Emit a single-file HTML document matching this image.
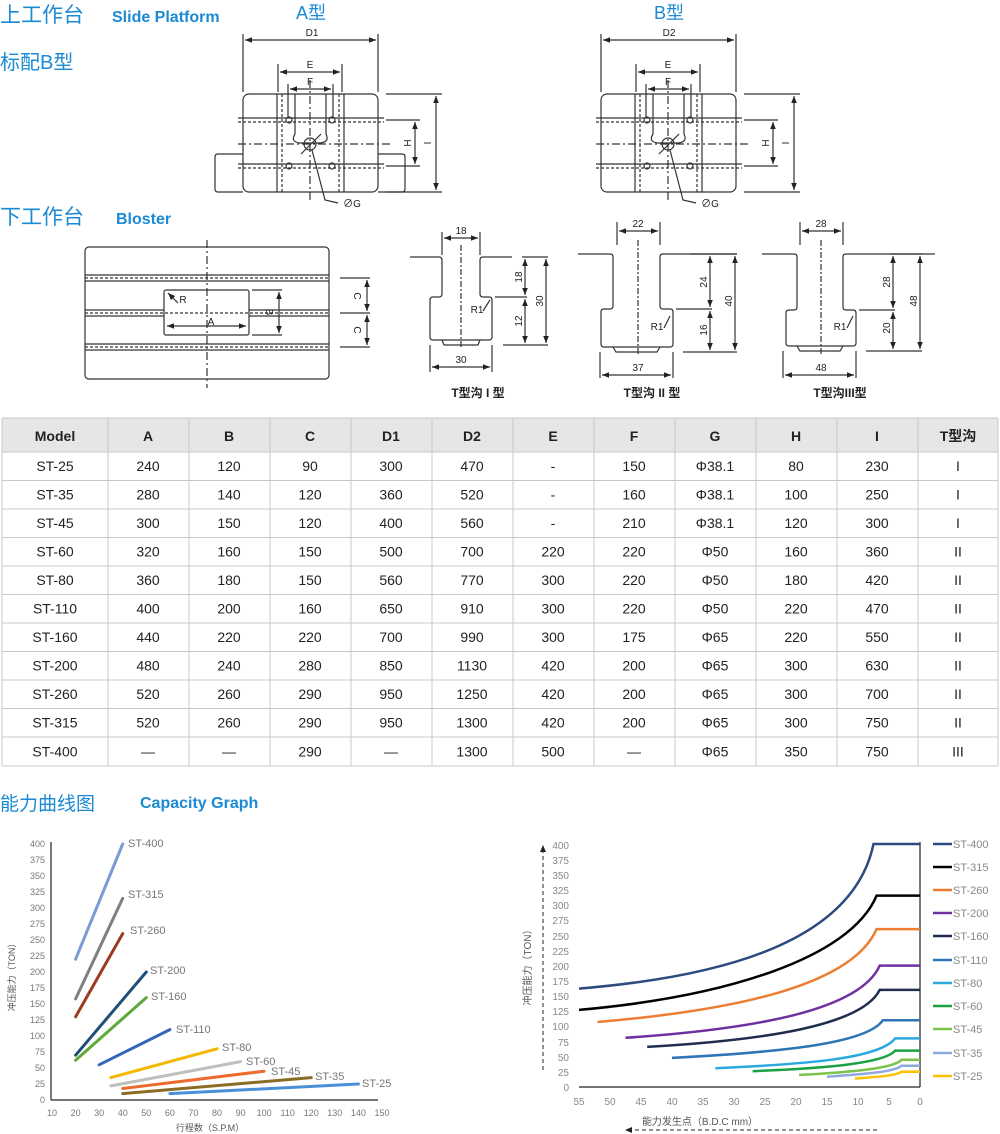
<!DOCTYPE html>
<html><head><meta charset="utf-8"><style>
html,body{margin:0;padding:0;background:#fff}
svg{display:block}
text{font-family:"Liberation Sans","Noto Sans CJK SC",sans-serif}
</style></head><body>
<svg width="1000" height="1134" viewBox="0 0 1000 1134" xmlns="http://www.w3.org/2000/svg">
<defs>
<marker id="ar" viewBox="0 0 10 10" refX="10" refY="5" markerWidth="6" markerHeight="6" orient="auto-start-reverse"><path d="M0,1 L10,5 L0,9 z" fill="#222"/></marker>
<g id="plat" stroke="#333" fill="none" stroke-width="1.2">
<rect x="243" y="94" width="135" height="98" rx="6"/>
<line x1="277" y1="94" x2="277" y2="192"/><line x1="282" y1="94" x2="282" y2="192" stroke-dasharray="3,2"/>
<line x1="339" y1="94" x2="339" y2="192" stroke-dasharray="3,2"/><line x1="344" y1="94" x2="344" y2="192"/>
<path d="M295,94 L295,134 Q290,142 300,143 L320,143 Q330,142 326,134 L326,94"/>
<line x1="238" y1="118" x2="384" y2="118"/><line x1="238" y1="122" x2="384" y2="122" stroke-dasharray="3,2"/>
<line x1="238" y1="164" x2="384" y2="164"/><line x1="238" y1="168" x2="384" y2="168" stroke-dasharray="3,2"/>
<line x1="238" y1="144" x2="390" y2="144" stroke-dasharray="8,3,2,3"/>
<line x1="310" y1="80" x2="310" y2="200" stroke-dasharray="8,3,2,3"/>
<circle cx="289" cy="120" r="3"/><circle cx="332" cy="120" r="3"/><circle cx="289" cy="166" r="3"/><circle cx="332" cy="166" r="3"/>
<circle cx="310" cy="144" r="6"/><line x1="301" y1="154" x2="321" y2="134"/>
<polyline points="312,150 325,200 338,203"/>
<line x1="243" y1="34" x2="243" y2="92"/><line x1="378" y1="34" x2="378" y2="92"/>
<line x1="245" y1="40" x2="376" y2="40" marker-start="url(#ar)" marker-end="url(#ar)"/>
<line x1="278" y1="64" x2="278" y2="92"/><line x1="342" y1="64" x2="342" y2="92"/>
<line x1="280" y1="72" x2="340" y2="72" marker-start="url(#ar)" marker-end="url(#ar)"/>
<line x1="288" y1="84" x2="288" y2="118"/><line x1="333" y1="84" x2="333" y2="118"/>
<line x1="290" y1="89" x2="331" y2="89" marker-start="url(#ar)" marker-end="url(#ar)"/>
<line x1="386" y1="94" x2="442" y2="94"/><line x1="386" y1="192" x2="442" y2="192"/>
<line x1="386" y1="120" x2="420" y2="120"/><line x1="386" y1="166" x2="420" y2="166"/>
<line x1="415" y1="122" x2="415" y2="164" marker-start="url(#ar)" marker-end="url(#ar)"/>
<line x1="436" y1="96" x2="436" y2="190" marker-start="url(#ar)" marker-end="url(#ar)"/>
</g>
</defs>
<!-- headings -->
<g fill="#1a8ad4">
<text x="0" y="22" font-size="21">上工作台</text>
<text x="112" y="22" font-size="16" font-weight="bold">Slide Platform</text>
<text x="0" y="69" font-size="20">标配B型</text>
<text x="0" y="224" font-size="21">下工作台</text>
<text x="116" y="224" font-size="16" font-weight="bold">Bloster</text>
<text x="0" y="810" font-size="19">能力曲线图</text>
<text x="140" y="808" font-size="16" font-weight="bold">Capacity Graph</text>
<text x="296" y="19" font-size="18">A型</text>
<text x="654" y="19" font-size="18">B型</text>
</g>
<!-- platforms -->
<use href="#plat"/>
<path d="M243,154 L218,154 Q215,154 215,157 L215,189 Q215,192 218,192 L243,192 M378,154 L402,154 Q405,154 405,157 L405,189 Q405,192 402,192 L378,192" stroke="#333" fill="none" stroke-width="1.2"/>
<use href="#plat" transform="translate(358,0)"/>
<g font-size="10" fill="#222" text-anchor="middle">
<text x="312" y="36">D1</text><text x="310" y="68">E</text><text x="310" y="85">F</text>
<text x="669" y="36">D2</text><text x="668" y="68">E</text><text x="668" y="85">F</text>
<text x="352" y="207">∅G</text><text x="710" y="207">∅G</text>
<text x="408" y="147" transform="rotate(90 408 143)">H</text><text x="428" y="147" transform="rotate(90 428 143)">I</text>
<text x="766" y="147" transform="rotate(90 766 143)">H</text><text x="786" y="147" transform="rotate(90 786 143)">I</text>
</g>
<!-- bolster -->
<g stroke="#333" fill="none" stroke-width="1.2">
<rect x="85" y="247" width="244" height="132" rx="4"/>
<line x1="85" y1="275" x2="329" y2="275"/><line x1="85" y1="278" x2="329" y2="278" stroke-dasharray="3,2"/><line x1="85" y1="281" x2="329" y2="281"/>
<line x1="85" y1="310" x2="164" y2="310"/><line x1="249" y1="310" x2="329" y2="310"/><line x1="85" y1="313" x2="329" y2="313" stroke-dasharray="3,2"/><line x1="85" y1="316" x2="164" y2="316"/><line x1="249" y1="316" x2="329" y2="316"/>
<line x1="85" y1="344" x2="329" y2="344"/><line x1="85" y1="347" x2="329" y2="347" stroke-dasharray="3,2"/><line x1="85" y1="350" x2="329" y2="350"/>
<rect x="164" y="290" width="85" height="45" rx="2"/>
<line x1="207" y1="240" x2="207" y2="388" stroke-dasharray="8,3,2,3"/>
<line x1="168" y1="293" x2="178" y2="303" marker-start="url(#ar)"/>
<line x1="167" y1="326" x2="246" y2="326" marker-start="url(#ar)" marker-end="url(#ar)"/>
<line x1="252" y1="290" x2="282" y2="290"/><line x1="252" y1="335" x2="282" y2="335"/>
<line x1="279" y1="292" x2="279" y2="333" marker-start="url(#ar)" marker-end="url(#ar)"/>
<line x1="340" y1="278" x2="370" y2="278"/><line x1="340" y1="313" x2="370" y2="313"/><line x1="340" y1="347" x2="370" y2="347"/>
<line x1="367" y1="280" x2="367" y2="311" marker-start="url(#ar)" marker-end="url(#ar)"/>
<line x1="367" y1="315" x2="367" y2="345" marker-start="url(#ar)" marker-end="url(#ar)"/>
</g>
<g font-size="10" fill="#222" text-anchor="middle">
<text x="183" y="303">R</text><text x="211" y="325">A</text>
<text x="270" y="316" transform="rotate(90 270 312)">B</text>
<text x="358" y="300" transform="rotate(90 358 296)">C</text>
<text x="358" y="334" transform="rotate(90 358 330)">C</text>
</g>
<!-- T slots -->
<g stroke="#333" fill="none" stroke-width="1.2">
<path d="M410,257 L439,257 Q442,257 442,260 L442,294 Q442,297 439,297 L433,297 Q430,297 430,300 L430,337 Q430,340 433,340 L489,340 Q492,340 492,337 L492,300 Q492,297 489,297 L483,297 Q480,297 480,294 L480,260 Q480,257 483,257 L512,257"/>
<path d="M442,340 L444,345 L478,345 L480,340"/>
<line x1="461" y1="245" x2="461" y2="348" stroke-dasharray="6,2,2,2"/>
<line x1="442" y1="232" x2="442" y2="255"/><line x1="480" y1="232" x2="480" y2="255"/>
<line x1="444" y1="238" x2="478" y2="238" marker-start="url(#ar)" marker-end="url(#ar)"/>
<line x1="430" y1="345" x2="430" y2="372"/><line x1="492" y1="345" x2="492" y2="372"/>
<line x1="432" y1="367" x2="490" y2="367" marker-start="url(#ar)" marker-end="url(#ar)"/>
<line x1="495" y1="297" x2="527" y2="297"/><line x1="503" y1="345" x2="548" y2="345"/><line x1="522" y1="257" x2="548" y2="257"/>
<line x1="525" y1="259" x2="525" y2="295" marker-start="url(#ar)" marker-end="url(#ar)"/>
<line x1="525" y1="299" x2="525" y2="343" marker-start="url(#ar)" marker-end="url(#ar)"/>
<line x1="546" y1="259" x2="546" y2="343" marker-start="url(#ar)" marker-end="url(#ar)"/>
<line x1="483" y1="311" x2="490" y2="300"/>

<path d="M578,254 L610,254 Q613,254 613,257 L613,306 Q613,309 610,309 L604,309 Q601,309 601,312 L601,344 Q601,347 604,347 L670,347 Q673,347 673,344 L673,312 Q673,309 670,309 L663,309 Q660,309 660,306 L660,257 Q660,254 663,254 L737,254"/>
<path d="M613,347 L616,352 L657,352 L660,347"/>
<line x1="638" y1="240" x2="638" y2="356" stroke-dasharray="6,2,2,2"/>
<line x1="617" y1="222" x2="617" y2="245"/><line x1="660" y1="222" x2="660" y2="245"/>
<line x1="619" y1="231" x2="658" y2="231" marker-start="url(#ar)" marker-end="url(#ar)"/>
<line x1="600" y1="352" x2="600" y2="378"/><line x1="673" y1="352" x2="673" y2="378"/>
<line x1="602" y1="375" x2="671" y2="375" marker-start="url(#ar)" marker-end="url(#ar)"/>
<line x1="676" y1="309" x2="712" y2="309"/><line x1="683" y1="352" x2="737" y2="352"/><line x1="690" y1="254" x2="737" y2="254"/>
<line x1="710" y1="256" x2="710" y2="307" marker-start="url(#ar)" marker-end="url(#ar)"/>
<line x1="710" y1="311" x2="710" y2="350" marker-start="url(#ar)" marker-end="url(#ar)"/>
<line x1="735" y1="256" x2="735" y2="350" marker-start="url(#ar)" marker-end="url(#ar)"/>
<line x1="664" y1="328" x2="670" y2="316"/>

<path d="M762,254 L794,254 Q797,254 797,257 L797,307 Q797,310 794,310 L789,310 Q786,310 786,313 L786,343 Q786,346 789,346 L853,346 Q856,346 856,343 L856,313 Q856,310 853,310 L846,310 Q843,310 843,307 L843,257 Q843,254 846,254 L935,254"/>
<path d="M797,346 L800,351 L840,351 L843,346"/>
<line x1="821" y1="240" x2="821" y2="356" stroke-dasharray="6,2,2,2"/>
<line x1="800" y1="222" x2="800" y2="245"/><line x1="843" y1="222" x2="843" y2="245"/>
<line x1="802" y1="231" x2="841" y2="231" marker-start="url(#ar)" marker-end="url(#ar)"/>
<line x1="783" y1="351" x2="783" y2="378"/><line x1="856" y1="351" x2="856" y2="378"/>
<line x1="785" y1="375" x2="854" y2="375" marker-start="url(#ar)" marker-end="url(#ar)"/>
<line x1="859" y1="310" x2="895" y2="310"/><line x1="866" y1="351" x2="922" y2="351"/><line x1="890" y1="254" x2="922" y2="254"/>
<line x1="893" y1="256" x2="893" y2="308" marker-start="url(#ar)" marker-end="url(#ar)"/>
<line x1="893" y1="312" x2="893" y2="349" marker-start="url(#ar)" marker-end="url(#ar)"/>
<line x1="920" y1="256" x2="920" y2="349" marker-start="url(#ar)" marker-end="url(#ar)"/>
<line x1="847" y1="328" x2="853" y2="316"/>
</g>
<g font-size="10" fill="#222" text-anchor="middle">
<text x="461" y="234">18</text><text x="461" y="363">30</text><text x="477" y="313">R1</text>
<text x="638" y="227">22</text><text x="638" y="371">37</text><text x="657" y="330">R1</text>
<text x="821" y="227">28</text><text x="821" y="371">48</text><text x="840" y="330">R1</text>
<g transform="rotate(-90)">
<text x="-277" y="522">18</text><text x="-321" y="522">12</text><text x="-301" y="543">30</text>
<text x="-282" y="707">24</text><text x="-330" y="707">16</text><text x="-301" y="732">40</text>
<text x="-282" y="890">28</text><text x="-328" y="890">20</text><text x="-301" y="917">48</text>
</g>
</g>
<g font-size="12" fill="#222" text-anchor="middle" font-weight="bold">
<text x="478" y="397">T型沟 I 型</text><text x="652" y="397">T型沟 II 型</text><text x="840" y="397">T型沟III型</text>
</g>
<!-- table -->
<g>
<rect x="2" y="418" width="996" height="34" fill="#e6e6e6"/>
<g stroke="#c8c8c8" stroke-width="1">
<line x1="2" y1="418" x2="998" y2="418"/>
<line x1="2" y1="452" x2="998" y2="452"/><line x1="2" y1="480.5" x2="998" y2="480.5"/><line x1="2" y1="509" x2="998" y2="509"/><line x1="2" y1="537.5" x2="998" y2="537.5"/><line x1="2" y1="566" x2="998" y2="566"/><line x1="2" y1="594.5" x2="998" y2="594.5"/><line x1="2" y1="623" x2="998" y2="623"/><line x1="2" y1="651.5" x2="998" y2="651.5"/><line x1="2" y1="680" x2="998" y2="680"/><line x1="2" y1="708.5" x2="998" y2="708.5"/><line x1="2" y1="737" x2="998" y2="737"/><line x1="2" y1="766" x2="998" y2="766"/>
<line x1="2" y1="418" x2="2" y2="766"/><line x1="108" y1="418" x2="108" y2="766"/><line x1="189" y1="418" x2="189" y2="766"/><line x1="270" y1="418" x2="270" y2="766"/><line x1="351" y1="418" x2="351" y2="766"/><line x1="432" y1="418" x2="432" y2="766"/><line x1="513" y1="418" x2="513" y2="766"/><line x1="594" y1="418" x2="594" y2="766"/><line x1="675" y1="418" x2="675" y2="766"/><line x1="756" y1="418" x2="756" y2="766"/><line x1="837" y1="418" x2="837" y2="766"/><line x1="918" y1="418" x2="918" y2="766"/><line x1="998" y1="418" x2="998" y2="766"/>
</g>
<g font-size="14" fill="#222" text-anchor="middle">
<g font-weight="bold" font-size="14"><text x="55" y="441">Model</text><text x="148" y="441">A</text><text x="229" y="441">B</text><text x="310" y="441">C</text><text x="391" y="441">D1</text><text x="472" y="441">D2</text><text x="553" y="441">E</text><text x="634" y="441">F</text><text x="715" y="441">G</text><text x="796" y="441">H</text><text x="877" y="441">I</text><text x="958" y="441">T型沟</text></g>
<g transform="translate(0,471)"><text x="55">ST-25</text><text x="148">240</text><text x="229">120</text><text x="310">90</text><text x="391">300</text><text x="472">470</text><text x="553">-</text><text x="634">150</text><text x="715">Φ38.1</text><text x="796">80</text><text x="877">230</text><text x="958">I</text></g>
<g transform="translate(0,499.5)"><text x="55">ST-35</text><text x="148">280</text><text x="229">140</text><text x="310">120</text><text x="391">360</text><text x="472">520</text><text x="553">-</text><text x="634">160</text><text x="715">Φ38.1</text><text x="796">100</text><text x="877">250</text><text x="958">I</text></g>
<g transform="translate(0,528)"><text x="55">ST-45</text><text x="148">300</text><text x="229">150</text><text x="310">120</text><text x="391">400</text><text x="472">560</text><text x="553">-</text><text x="634">210</text><text x="715">Φ38.1</text><text x="796">120</text><text x="877">300</text><text x="958">I</text></g>
<g transform="translate(0,556.5)"><text x="55">ST-60</text><text x="148">320</text><text x="229">160</text><text x="310">150</text><text x="391">500</text><text x="472">700</text><text x="553">220</text><text x="634">220</text><text x="715">Φ50</text><text x="796">160</text><text x="877">360</text><text x="958">II</text></g>
<g transform="translate(0,585)"><text x="55">ST-80</text><text x="148">360</text><text x="229">180</text><text x="310">150</text><text x="391">560</text><text x="472">770</text><text x="553">300</text><text x="634">220</text><text x="715">Φ50</text><text x="796">180</text><text x="877">420</text><text x="958">II</text></g>
<g transform="translate(0,613.5)"><text x="55">ST-110</text><text x="148">400</text><text x="229">200</text><text x="310">160</text><text x="391">650</text><text x="472">910</text><text x="553">300</text><text x="634">220</text><text x="715">Φ50</text><text x="796">220</text><text x="877">470</text><text x="958">II</text></g>
<g transform="translate(0,642)"><text x="55">ST-160</text><text x="148">440</text><text x="229">220</text><text x="310">220</text><text x="391">700</text><text x="472">990</text><text x="553">300</text><text x="634">175</text><text x="715">Φ65</text><text x="796">220</text><text x="877">550</text><text x="958">II</text></g>
<g transform="translate(0,670.5)"><text x="55">ST-200</text><text x="148">480</text><text x="229">240</text><text x="310">280</text><text x="391">850</text><text x="472">1130</text><text x="553">420</text><text x="634">200</text><text x="715">Φ65</text><text x="796">300</text><text x="877">630</text><text x="958">II</text></g>
<g transform="translate(0,699)"><text x="55">ST-260</text><text x="148">520</text><text x="229">260</text><text x="310">290</text><text x="391">950</text><text x="472">1250</text><text x="553">420</text><text x="634">200</text><text x="715">Φ65</text><text x="796">300</text><text x="877">700</text><text x="958">II</text></g>
<g transform="translate(0,727.5)"><text x="55">ST-315</text><text x="148">520</text><text x="229">260</text><text x="310">290</text><text x="391">950</text><text x="472">1300</text><text x="553">420</text><text x="634">200</text><text x="715">Φ65</text><text x="796">300</text><text x="877">750</text><text x="958">II</text></g>
<g transform="translate(0,756.5)"><text x="55">ST-400</text><text x="148">—</text><text x="229">—</text><text x="310">290</text><text x="391">—</text><text x="472">1300</text><text x="553">500</text><text x="634">—</text><text x="715">Φ65</text><text x="796">350</text><text x="877">750</text><text x="958">III</text></g>
</g>
</g>
<!-- left chart -->
<g>
<line x1="51" y1="1100" x2="51" y2="842" stroke="#222" stroke-width="1.2"/>
<line x1="51" y1="1100" x2="378" y2="1100" stroke="#222" stroke-width="1.2"/>
<g font-size="9" fill="#777" text-anchor="end">
<text x="45" y="1103">0</text><text x="45" y="1087">25</text><text x="45" y="1071">50</text><text x="45" y="1055">75</text><text x="45" y="1039">100</text><text x="45" y="1023">125</text><text x="45" y="1007">150</text><text x="45" y="991">175</text><text x="45" y="975">200</text><text x="45" y="959">225</text><text x="45" y="943">250</text><text x="45" y="927">275</text><text x="45" y="911">300</text><text x="45" y="895">325</text><text x="45" y="879">350</text><text x="45" y="863">375</text><text x="45" y="847">400</text>
</g>
<g font-size="9" fill="#777" text-anchor="middle">
<text x="52" y="1116">10</text><text x="75.6" y="1116">20</text><text x="99.1" y="1116">30</text><text x="122.7" y="1116">40</text><text x="146.3" y="1116">50</text><text x="169.9" y="1116">60</text><text x="193.4" y="1116">70</text><text x="217" y="1116">80</text><text x="240.6" y="1116">90</text><text x="264.1" y="1116">100</text><text x="287.7" y="1116">110</text><text x="311.3" y="1116">120</text><text x="334.8" y="1116">130</text><text x="358.4" y="1116">140</text><text x="382" y="1116">150</text>
<text x="210" y="1131" font-size="9" fill="#555">行程数（S.P.M）</text>
</g>
<text x="15" y="975" font-size="9" fill="#555" text-anchor="middle" transform="rotate(-90 15 975)">冲压能力（TON）</text>
<g stroke-width="3" stroke-linecap="round">
<line x1="75.6" y1="959.2" x2="122.7" y2="844" stroke="#7b9bd6"/>
<line x1="75.6" y1="998.9" x2="122.7" y2="898.4" stroke="#7f7f7f"/>
<line x1="75.6" y1="1016.8" x2="122.7" y2="933.6" stroke="#9e3b1e"/>
<line x1="75.6" y1="1055.2" x2="146.3" y2="972" stroke="#1f4e79"/>
<line x1="75.6" y1="1060.3" x2="146.3" y2="997.6" stroke="#5fa83a"/>
<line x1="99.1" y1="1064.8" x2="169.9" y2="1029.6" stroke="#3a66b8"/>
<line x1="110.9" y1="1077.6" x2="217" y2="1048.8" stroke="#f5b800"/>
<line x1="110.9" y1="1085.9" x2="240.6" y2="1061.6" stroke="#bfbfbf"/>
<line x1="122.7" y1="1088.5" x2="264.1" y2="1071.2" stroke="#ed6b2e"/>
<line x1="122.7" y1="1093.6" x2="311.3" y2="1077.6" stroke="#8a6d24"/>
<line x1="169.9" y1="1093.6" x2="358.4" y2="1084" stroke="#4a90d9"/>
</g>
<g font-size="11" fill="#777">
<text x="128" y="847">ST-400</text><text x="128" y="898">ST-315</text><text x="130" y="934">ST-260</text><text x="150" y="974">ST-200</text><text x="151" y="1000">ST-160</text><text x="176" y="1033">ST-110</text><text x="222" y="1051">ST-80</text><text x="246" y="1065">ST-60</text><text x="271" y="1075">ST-45</text><text x="315" y="1080">ST-35</text><text x="362" y="1087">ST-25</text>
</g>
</g>
<!-- right chart -->
<g>
<line x1="920" y1="1087" x2="920" y2="842" stroke="#222" stroke-width="1.2"/>
<line x1="579" y1="1087" x2="920" y2="1087" stroke="#222" stroke-width="1.2"/>
<line x1="543" y1="1070" x2="543" y2="848" stroke="#222" stroke-dasharray="4,3"/>
<path d="M540,852 L543,845 L546,852" fill="#222"/>
<line x1="628" y1="1130" x2="878" y2="1130" stroke="#222" stroke-dasharray="4,3"/>
<path d="M632,1127 L625,1130 L632,1133" fill="#222"/>
<g font-size="10" fill="#888" text-anchor="end">
<text x="569" y="1091">0</text><text x="569" y="1076">25</text><text x="569" y="1061">50</text><text x="569" y="1046">75</text><text x="569" y="1030">100</text><text x="569" y="1015">125</text><text x="569" y="1000">150</text><text x="569" y="985">175</text><text x="569" y="970">200</text><text x="569" y="955">225</text><text x="569" y="940">250</text><text x="569" y="924">275</text><text x="569" y="909">300</text><text x="569" y="894">325</text><text x="569" y="879">350</text><text x="569" y="864">375</text><text x="569" y="849">400</text>
</g>
<g font-size="10" fill="#888" text-anchor="middle">
<text x="579" y="1105">55</text><text x="610" y="1105">50</text><text x="641" y="1105">45</text><text x="672" y="1105">40</text><text x="703" y="1105">35</text><text x="734" y="1105">30</text><text x="765" y="1105">25</text><text x="796" y="1105">20</text><text x="827" y="1105">15</text><text x="858" y="1105">10</text><text x="889" y="1105">5</text><text x="920" y="1105">0</text>
<text x="700" y="1125" fill="#555">能力发生点（B.D.C mm）</text>
</g>
<text x="531" y="965" font-size="10" fill="#555" text-anchor="middle" transform="rotate(-90 531 965)">冲压能力（TON）</text>
<g fill="none" stroke-width="2.5">
<path d="M579,988.6 C724,976.6 853,941.6 873.5,844 L920,844" stroke="#2c4a7e"/>
<path d="M579,1009.9 C724,997 850,958.9 876.6,895.6 L920,895.6" stroke="#000"/>
<path d="M597.6,1022 C738,1010 852,985 876.6,929.1 L920,929.1" stroke="#ed7d31"/>
<path d="M625.5,1037.8 C756,1029 860,1010 879.7,965.6 L920,965.6" stroke="#7030a0"/>
<path d="M647.2,1046.9 C768,1040 862,1025 879.7,989.9 L920,989.9" stroke="#1f2d4e"/>
<path d="M672,1057.9 C785,1052 868,1043 882.8,1020.2 L920,1020.2" stroke="#2e75b6"/>
<path d="M715.4,1068.2 C812,1064 880,1058 895.2,1038.4 L920,1038.4" stroke="#29a9e0"/>
<path d="M752.6,1071.2 C830,1068 885,1063 895.2,1050.6 L920,1050.6" stroke="#1aa142"/>
<path d="M799.1,1074.9 C855,1072 895,1068 901.4,1059.7 L920,1059.7" stroke="#7dc24b"/>
<path d="M827,1076.7 C870,1074 897,1071 901.4,1065.7 L920,1065.7" stroke="#8ea9db"/>
<path d="M854.9,1078.5 C880,1077 898,1075 901.4,1071.8 L920,1071.8" stroke="#ffc000"/>
</g>
<g stroke-width="2.5">
<line x1="933" y1="844" x2="952" y2="844" stroke="#2c4a7e"/>
<line x1="933" y1="867" x2="952" y2="867" stroke="#000"/>
<line x1="933" y1="890" x2="952" y2="890" stroke="#ed7d31"/>
<line x1="933" y1="913" x2="952" y2="913" stroke="#7030a0"/>
<line x1="933" y1="936" x2="952" y2="936" stroke="#1f2d4e"/>
<line x1="933" y1="960" x2="952" y2="960" stroke="#2e75b6"/>
<line x1="933" y1="983" x2="952" y2="983" stroke="#29a9e0"/>
<line x1="933" y1="1006" x2="952" y2="1006" stroke="#1aa142"/>
<line x1="933" y1="1029" x2="952" y2="1029" stroke="#7dc24b"/>
<line x1="933" y1="1053" x2="952" y2="1053" stroke="#8ea9db"/>
<line x1="933" y1="1076" x2="952" y2="1076" stroke="#ffc000"/>
</g>
<g font-size="11" fill="#888">
<text x="953" y="848">ST-400</text><text x="953" y="871">ST-315</text><text x="953" y="894">ST-260</text><text x="953" y="917">ST-200</text><text x="953" y="940">ST-160</text><text x="953" y="964">ST-110</text><text x="953" y="987">ST-80</text><text x="953" y="1010">ST-60</text><text x="953" y="1033">ST-45</text><text x="953" y="1057">ST-35</text><text x="953" y="1080">ST-25</text>
</g>
</g>
</svg>
</body></html>
